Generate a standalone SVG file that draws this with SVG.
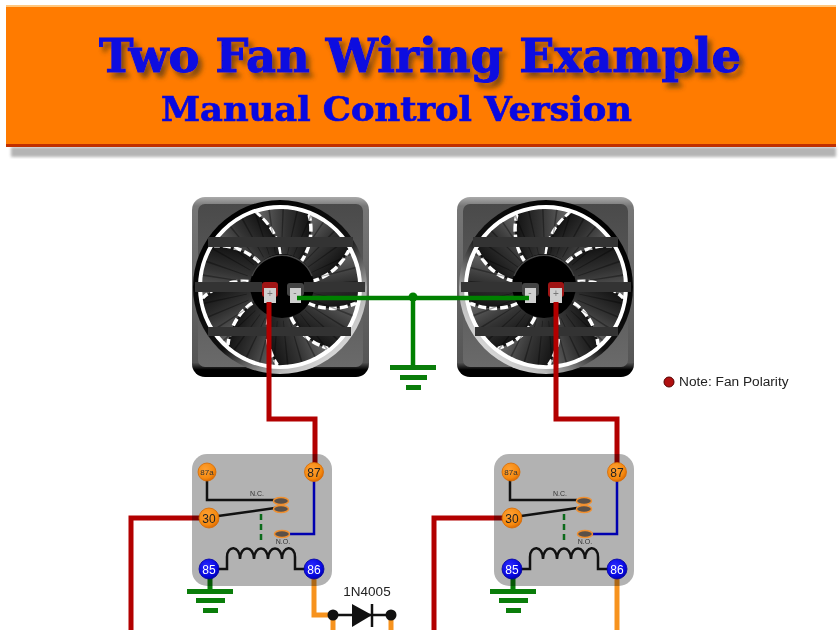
<svg xmlns="http://www.w3.org/2000/svg" width="840" height="630" viewBox="0 0 840 630">
<style>
.t{font-family:"DejaVu Serif","Liberation Serif",serif;font-weight:bold;fill:#0808e0;stroke:#0808e0}
.s{font-family:"Liberation Sans",Arial,sans-serif}
.wire{fill:none;stroke-linejoin:miter}
.red{stroke:#b20000;stroke-width:5}
.grn{stroke:#008000;stroke-width:4.500}
.org{stroke:#f7931e;stroke-width:5}
.gbar{fill:#0a7d0a}
.rb{fill:#b2b2b2;mix-blend-mode:multiply}
.bk{fill:none;stroke:#111;stroke-width:2.500}
.tn{font-family:"Liberation Sans",Arial,sans-serif;text-anchor:middle}
.o{fill:url(#og);stroke:#d86a00;stroke-width:.8}
.b{fill:url(#bg);stroke:#0000a0;stroke-width:.8}
.ct{fill:#5a5048;stroke:#f09030;stroke-width:1.500}
.lbl{font-family:"Liberation Sans",Arial,sans-serif;font-size:7px;fill:#333;text-anchor:middle}
</style>
<defs>
<filter id="ts" x="-5%" y="-30%" width="110%" height="170%"><feDropShadow dx="4" dy="5" stdDeviation="2.500" flood-color="#5a3a10" flood-opacity=".75"/></filter>
<filter id="bl" x="-5%" y="-20%" width="110%" height="140%"><feGaussianBlur stdDeviation="1.500"/></filter>
<linearGradient id="fr" x1="0" y1="0" x2="0" y2="1"><stop offset="0" stop-color="#aaa"/><stop offset=".05" stop-color="#777"/><stop offset=".92" stop-color="#555"/><stop offset=".96" stop-color="#000"/></linearGradient>
<linearGradient id="fi" x1="0" y1="0" x2="0" y2="1"><stop offset="0" stop-color="#4a4a4a"/><stop offset="1" stop-color="#6a6a6a"/></linearGradient>
<linearGradient id="cr" x1="0.15" y1="0.1" x2="0.85" y2="0.9"><stop offset="0" stop-color="#000"/><stop offset=".55" stop-color="#111"/><stop offset=".85" stop-color="#bbb"/><stop offset="1" stop-color="#ddd"/></linearGradient>
<linearGradient id="bld" x1="0" y1="0" x2="1" y2="0"><stop offset="0" stop-color="#6a6a6a"/><stop offset=".55" stop-color="#333"/><stop offset="1" stop-color="#141414"/></linearGradient>
<radialGradient id="og" cx=".4" cy=".35" r=".7"><stop offset="0" stop-color="#ffa033"/><stop offset=".7" stop-color="#f58a10"/><stop offset="1" stop-color="#d86400"/></radialGradient>
<radialGradient id="bg" cx=".4" cy=".35" r=".7"><stop offset="0" stop-color="#2a2aff"/><stop offset=".7" stop-color="#0808e0"/><stop offset="1" stop-color="#0000a8"/></radialGradient>
<clipPath id="fc"><circle cx="0" cy="0" r="79"/></clipPath>
<g id="blade">
<path d="M0-30C-1-46-8-62-24-74A78 78 0 0 1 28-73C32-58 29-38 19-23Z" fill="url(#bld)"/>
<path d="M0-32C-1-46-8-62-24-74" fill="none" stroke="#fff" stroke-width="3.500" stroke-dasharray="8 3"/>
</g>
<g id="fanBody">
<rect x="192" y="197" width="177" height="180" rx="13" fill="url(#fr)"/>
<rect x="198" y="204" width="165" height="163" rx="7" fill="url(#fi)"/>
<circle cx="280" cy="287" r="87" fill="url(#cr)"/>
<circle cx="280" cy="287" r="79" fill="#111" stroke="#fff" stroke-width="6"/>
<g transform="translate(280 287)" clip-path="url(#fc)">
<use href="#blade"/>
<use href="#blade" transform="rotate(40)"/>
<use href="#blade" transform="rotate(80)"/>
<use href="#blade" transform="rotate(120)"/>
<use href="#blade" transform="rotate(160)"/>
<use href="#blade" transform="rotate(200)"/>
<use href="#blade" transform="rotate(240)"/>
<use href="#blade" transform="rotate(280)"/>
<use href="#blade" transform="rotate(320)"/>
<circle r="56" fill="none" stroke="#000" stroke-opacity=".35" stroke-width="44" stroke-dasharray="1.200 9"/>
</g>
<rect x="208" y="237" width="145" height="10" fill="#333"/>
<rect x="208" y="327" width="143" height="9" fill="#333"/>
<circle cx="282" cy="286" r="32" fill="#000"/>
<path d="M252 276A32 32 0 0 1 312 276" fill="none" stroke="#444" stroke-width="1.500"/>
<rect x="195" y="282" width="67" height="10" fill="#333"/>
<rect x="304" y="282" width="61" height="10" fill="#333"/>
</g>
</defs>
<rect width="840" height="630" fill="#fff"/>
<g id="header">
<rect x="11" y="147" width="825" height="10" fill="#b4b4b4" filter="url(#bl)"/>
<rect x="6" y="5" width="830" height="141" fill="#ff7b00"/>
<rect x="6" y="5" width="830" height="2" fill="#ffc880"/>
<rect x="6" y="144" width="830" height="3" fill="#c03000"/>
<text class="t" x="99" y="72" font-size="46" stroke-width="1" textLength="642" lengthAdjust="spacingAndGlyphs" filter="url(#ts)">Two Fan Wiring Example</text>
<text class="t" x="161" y="121" font-size="33" stroke-width=".7" textLength="471" lengthAdjust="spacingAndGlyphs">Manual Control Version</text>
</g>
<g id="fan1"><use href="#fanBody"/></g>
<g id="fan2"><use href="#fanBody" transform="matrix(-1 0 0 1 826 0)"/></g>
<g id="fan1-plus"><rect x="262" y="282" width="16" height="15" rx="3" fill="#a01515"/><rect x="264" y="288" width="12" height="15" fill="#cfcfcf"/><text class="tn" x="270" y="297" font-size="10" fill="#777">+</text></g>
<g id="fan1-minus"><rect x="287" y="283" width="17" height="13" rx="3" fill="#444"/><rect x="290" y="288" width="11" height="15" fill="#cfcfcf"/><text class="tn" x="295" y="296" font-size="10" fill="#777">-</text></g>
<g id="fan2-minus"><rect x="522" y="283" width="17" height="13" rx="3" fill="#444"/><rect x="525" y="288" width="11" height="15" fill="#cfcfcf"/><text class="tn" x="530" y="296" font-size="10" fill="#777">-</text></g>
<g id="fan2-plus"><rect x="548" y="282" width="16" height="15" rx="3" fill="#a01515"/><rect x="550" y="288" width="12" height="15" fill="#cfcfcf"/><text class="tn" x="556" y="297" font-size="10" fill="#777">+</text></g>
<g id="connectors">
<path class="wire red" d="M269 302V419H315V464"/>
<path class="wire red" d="M556 302V419H617V464"/>
<path class="wire red" d="M209 518H131V630"/>
<path class="wire red" d="M512 518H434V630"/>
<path class="wire org" d="M314 578V615H333V630"/>
<path class="wire org" d="M391 615V630"/>
<path class="wire org" d="M617 578V630"/>
<path class="wire grn" d="M297 298H529"/>
<path class="wire grn" d="M413 298V367"/>
<circle cx="413" cy="297" r="4.500" fill="#008000"/>
<path class="wire" d="M210 575V591" stroke="#0a7d0a" stroke-width="5"/>
<path class="wire" d="M513 575V591" stroke="#0a7d0a" stroke-width="5"/>
</g>
<g id="ground1"><rect class="gbar" x="390" y="365" width="46" height="5"/><rect class="gbar" x="400" y="375" width="27" height="5"/><rect class="gbar" x="406" y="385" width="15" height="5"/></g>
<g id="relay1">
<rect class="rb" x="192" y="454" width="140" height="132" rx="15"/>
<path class="bk" d="M207 480V500H275"/>
<path class="bk" d="M218 516L275 508"/>
<path d="M314 481V534H290" fill="none" stroke="#0000b0" stroke-width="2.500"/>
<path d="M261 514V543" fill="none" stroke="#0a6a1a" stroke-width="2.500" stroke-dasharray="6 4"/>
<path class="bk" d="M218 569H227V557C227 545 240 545 240 559C240 545 254 545 254 559C254 545 268 545 268 559C268 545 282 545 282 559C282 545 295 545 295 557V569H305"/>
<ellipse class="ct" cx="281" cy="501" rx="7.500" ry="3.500"/><ellipse class="ct" cx="281" cy="509" rx="7.500" ry="3.500"/><ellipse class="ct" cx="282" cy="534" rx="7.500" ry="3.500"/>
<text class="lbl" x="257" y="496">N.C.</text><text class="lbl" x="283" y="544">N.O.</text>
<g id="r1-87a"><circle class="o" cx="207" cy="472" r="9"/><text class="tn" x="207" y="475" font-size="8" fill="#333">87a</text></g>
<g id="r1-87"><circle class="o" cx="314" cy="472" r="9.500"/><text class="tn" x="314" y="476.500" font-size="12" fill="#222">87</text></g>
<g id="r1-30"><circle class="o" cx="209" cy="518" r="10"/><text class="tn" x="209" y="522.500" font-size="12" fill="#222">30</text></g>
<g id="r1-85"><circle class="b" cx="209" cy="569" r="10"/><text class="tn" x="209" y="573.500" font-size="12" fill="#fff">85</text></g>
<g id="r1-86"><circle class="b" cx="314" cy="569" r="10"/><text class="tn" x="314" y="573.500" font-size="12" fill="#fff">86</text></g>
</g>
<g id="relay2">
<rect class="rb" x="494" y="454" width="140" height="132" rx="15"/>
<path class="bk" d="M510 480V500H577"/>
<path class="bk" d="M521 516L577 508"/>
<path d="M617 481V534H592" fill="none" stroke="#0000b0" stroke-width="2.500"/>
<path d="M564 514V543" fill="none" stroke="#0a6a1a" stroke-width="2.500" stroke-dasharray="6 4"/>
<path class="bk" d="M521 569H530V557C530 545 543 545 543 559C543 545 557 545 557 559C557 545 571 545 571 559C571 545 585 545 585 559C585 545 598 545 598 557V569H608"/>
<ellipse class="ct" cx="584" cy="501" rx="7.500" ry="3.500"/><ellipse class="ct" cx="584" cy="509" rx="7.500" ry="3.500"/><ellipse class="ct" cx="585" cy="534" rx="7.500" ry="3.500"/>
<text class="lbl" x="560" y="496">N.C.</text><text class="lbl" x="585" y="544">N.O.</text>
<g id="r2-87a"><circle class="o" cx="511" cy="472" r="9"/><text class="tn" x="511" y="475" font-size="8" fill="#333">87a</text></g>
<g id="r2-87"><circle class="o" cx="617" cy="472" r="9.500"/><text class="tn" x="617" y="476.500" font-size="12" fill="#222">87</text></g>
<g id="r2-30"><circle class="o" cx="512" cy="518" r="10"/><text class="tn" x="512" y="522.500" font-size="12" fill="#222">30</text></g>
<g id="r2-85"><circle class="b" cx="512" cy="569" r="10"/><text class="tn" x="512" y="573.500" font-size="12" fill="#fff">85</text></g>
<g id="r2-86"><circle class="b" cx="617" cy="569" r="10"/><text class="tn" x="617" y="573.500" font-size="12" fill="#fff">86</text></g>
</g>
<g id="ground2"><rect class="gbar" x="187" y="589" width="46" height="5"/><rect class="gbar" x="196" y="598" width="29" height="5"/><rect class="gbar" x="203" y="608" width="15" height="5"/></g>
<g id="ground3"><rect class="gbar" x="490" y="589" width="46" height="5"/><rect class="gbar" x="499" y="598" width="29" height="5"/><rect class="gbar" x="506" y="608" width="15" height="5"/></g>
<g id="diode">
<path d="M333 615H391" stroke="#111" stroke-width="2.500"/>
<path d="M352 604L372 615L352 627Z" fill="#111"/>
<path d="M372 604V627" stroke="#111" stroke-width="2.500"/>
<circle cx="333" cy="615" r="5.500" fill="#111"/><circle cx="391" cy="615" r="5.500" fill="#111"/>
<text class="s" x="367" y="596" font-size="13.500" text-anchor="middle" fill="#222">1N4005</text>
</g>
<g id="note">
<circle cx="669" cy="382" r="5" fill="#b01010" stroke="#500" stroke-width="1"/>
<text class="s" x="679" y="386" font-size="13.700" fill="#222">Note: Fan Polarity</text>
</g>
</svg>
